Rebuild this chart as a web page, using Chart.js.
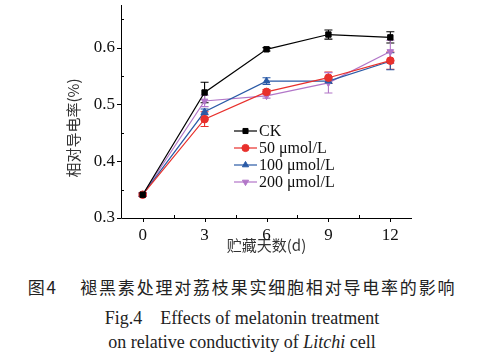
<!DOCTYPE html>
<html><head><meta charset="utf-8">
<script src="https://cdn.jsdelivr.net/npm/chart.js@4/dist/chart.umd.min.js"></script>
<style>
html,body{margin:0;padding:0;background:#fff;}
#wrap{position:relative;width:484px;height:359px;overflow:hidden;}
#cbox{position:absolute;left:0;top:0;width:484px;height:260px;}
.cap{position:absolute;left:0;width:484px;text-align:center;color:#222;white-space:nowrap;}
#c1{top:276px;font-family:"Noto Sans CJK SC";font-size:17px;letter-spacing:1.8px;line-height:22px;}
#c2{top:307px;font-family:"Liberation Serif","Times New Roman","DejaVu Serif",serif;font-size:18px;line-height:22px;}
#c3{top:331px;font-family:"Liberation Serif","Times New Roman","DejaVu Serif",serif;font-size:18px;line-height:22px;}
</style></head>
<body><div id="wrap">
<div id="cbox"><canvas id="cv"></canvas></div>
<div class="cap" id="c1">图4&nbsp;&nbsp;&nbsp;&nbsp;褪黑素处理对荔枝果实细胞相对导电率的影响</div>
<div class="cap" id="c2">Fig.4&nbsp;&nbsp;&nbsp;&nbsp;Effects of melatonin treatment</div>
<div class="cap" id="c3">on relative conductivity of <i>Litchi</i> cell</div>
</div>
<script>
const days = [0, 3, 6, 9, 12];
const seriesNames = ["CK", "50 μmol/L", "100 μmol/L", "200 μmol/L"];
const ck    = [0.341, 0.521, 0.597, 0.623, 0.618];
const m50   = [0.341, 0.474, 0.522, 0.547, 0.577];
const m100  = [0.341, 0.487, 0.541, 0.541, 0.576];
const m200  = [0.341, 0.506, 0.515, 0.538, 0.593];
const ckErr   = [0.003, 0.018, 0.003, 0.008, 0.010];
const m50Err  = [0.003, 0.013, 0.004, 0.010, 0.015];
const m100Err = [0.003, 0.005, 0.006, 0.004, 0.015];
const m200Err = [0.003, 0.010, 0.004, 0.018, 0.020];
const xTicks = [0, 3, 6, 9, 12];
const xMinor = [1.5, 4.5, 7.5, 10.5];
const yTicks = [0.3, 0.4, 0.5, 0.6];
const yMinor = [0.35, 0.45, 0.55, 0.65];
const xTitle = '贮藏天数(d)';
const yTitle = '相对导电率(%)';

const serif = '"Liberation Serif", "Times New Roman", "DejaVu Serif", serif';
const colors = ["#000000", "#e8302c", "#2a5aa6", "#b276c8"];
const shapes = ["rect", "circle", "triangle", "triangle"];
const rots = [0, 0, 0, 180];
const vals = [ck, m50, m100, m200];
const errs = [ckErr, m50Err, m100Err, m200Err];

const datasets = vals.map((v, i) => ({
  label: seriesNames[i],
  data: days.map((d, k) => ({x: d, y: v[k]})),
  borderColor: colors[i],
  backgroundColor: colors[i],
  borderWidth: 1.2,
  pointStyle: shapes[i],
  pointRotation: rots[i],
  pointRadius: 3.8,
  pointBorderWidth: 1,
  tension: 0,
  errors: errs[i]
}));

const axesPlugin = {
  id: 'axesPlugin',
  afterDraw(chart) {
    const ctx = chart.ctx, a = chart.chartArea;
    const xs = chart.scales.x, ys = chart.scales.y;
    ctx.save();
    ctx.strokeStyle = '#000'; ctx.lineWidth = 1;
    ctx.beginPath();
    ctx.moveTo(a.left + 0.5, a.top); ctx.lineTo(a.left + 0.5, a.bottom + 0.5);
    ctx.lineTo(a.right, a.bottom + 0.5);
    ctx.stroke();
    ctx.beginPath();
    xTicks.forEach(v => { const p = Math.round(xs.getPixelForValue(v)) + 0.5; ctx.moveTo(p, a.bottom); ctx.lineTo(p, a.bottom + 4); });
    xMinor.forEach(v => { const p = Math.round(xs.getPixelForValue(v)) + 0.5; ctx.moveTo(p, a.bottom); ctx.lineTo(p, a.bottom - 3); });
    yTicks.forEach(v => { const p = Math.round(ys.getPixelForValue(v)) + 0.5; ctx.moveTo(a.left, p); ctx.lineTo(a.left - 4, p); });
    yMinor.forEach(v => { const p = Math.round(ys.getPixelForValue(v)) + 0.5; ctx.moveTo(a.left, p); ctx.lineTo(a.left + 3, p); });
    ctx.stroke();
    ctx.fillStyle = '#333';
    ctx.font = '15px "Noto Sans CJK SC"';
    ctx.textAlign = 'center'; ctx.textBaseline = 'middle';
    ctx.translate(73, 128);
    ctx.rotate(-Math.PI / 2);
    ctx.fillText(yTitle, 0, 0);
    ctx.restore();
  }
};

const errPlugin = {
  id: 'errPlugin',
  beforeDatasetsDraw(chart) {
    const ctx = chart.ctx, xs = chart.scales.x, ys = chart.scales.y;
    ctx.save();
    chart.data.datasets.forEach((ds, i) => {
      ctx.strokeStyle = ds.borderColor; ctx.lineWidth = 1.1;
      ds.data.forEach((pt, k) => {
        const e = ds.errors[k];
        const px = xs.getPixelForValue(pt.x);
        const y1 = ys.getPixelForValue(pt.y + e), y2 = ys.getPixelForValue(pt.y - e);
        ctx.beginPath();
        ctx.moveTo(px, y1); ctx.lineTo(px, y2);
        ctx.moveTo(px - 4, y1); ctx.lineTo(px + 4, y1);
        ctx.moveTo(px - 4, y2); ctx.lineTo(px + 4, y2);
        ctx.stroke();
      });
    });
    ctx.restore();
  }
};

const legendPlugin = {
  id: 'legendPlugin',
  afterDraw(chart) {
    const ctx = chart.ctx;
    const x0 = 234, x1 = 257, ty = 259, rowY = [131, 148, 165, 182];
    ctx.save();
    chart.data.datasets.forEach((ds, i) => {
      const y = rowY[i];
      ctx.strokeStyle = ds.borderColor; ctx.lineWidth = 1.2;
      ctx.beginPath(); ctx.moveTo(x0, y); ctx.lineTo(x1, y); ctx.stroke();
      ctx.fillStyle = ds.backgroundColor; ctx.strokeStyle = ds.borderColor; ctx.lineWidth = 1;
      Chart.helpers.drawPoint(ctx, {pointStyle: ds.pointStyle, rotation: ds.pointRotation, radius: 3.6, borderWidth: 1}, (x0 + x1) / 2, y);
      ctx.fillStyle = '#111';
      ctx.font = '16px ' + serif;
      ctx.textBaseline = 'middle'; ctx.textAlign = 'left';
      ctx.fillText(ds.label, ty, y + 1);
    });
    ctx.restore();
  }
};

new Chart(document.getElementById('cv'), {
  type: 'line',
  data: { datasets },
  options: {
    responsive: true, maintainAspectRatio: false, animation: false,
    layout: { padding: { left: 0, top: 3, right: 72, bottom: 0 } },
    plugins: { legend: { display: false }, tooltip: { enabled: false } },
    scales: {
      x: {
        type: 'linear', min: -1.05, max: 13.05,
        grid: { display: false, drawTicks: false }, border: { display: false },
        afterBuildTicks: s => { s.ticks = xTicks.map(v => ({value: v})); },
        afterFit: s => { s.height = 42; s.paddingLeft = 0; s.paddingRight = 0; },
        ticks: { padding: 7, color: '#111', font: { family: serif, size: 17 }, maxRotation: 0, autoSkip: false },
        title: { display: true, text: xTitle, color: '#333', font: { family: 'Noto Sans CJK SC', size: 15 }, padding: { top: 0, bottom: 6 } }
      },
      y: {
        min: 0.3, max: 0.675,
        grid: { display: false, drawTicks: false }, border: { display: false },
        afterBuildTicks: s => { s.ticks = yTicks.map(v => ({value: v})); },
        afterFit: s => { s.width = 121; s.paddingTop = 0; s.paddingBottom = 0; },
        ticks: { padding: 6, color: '#111', font: { family: serif, size: 17 }, callback: v => v.toFixed(1) },
        title: { display: false }
      }
    }
  },
  plugins: [errPlugin, axesPlugin, legendPlugin]
});
</script>
</body></html>
